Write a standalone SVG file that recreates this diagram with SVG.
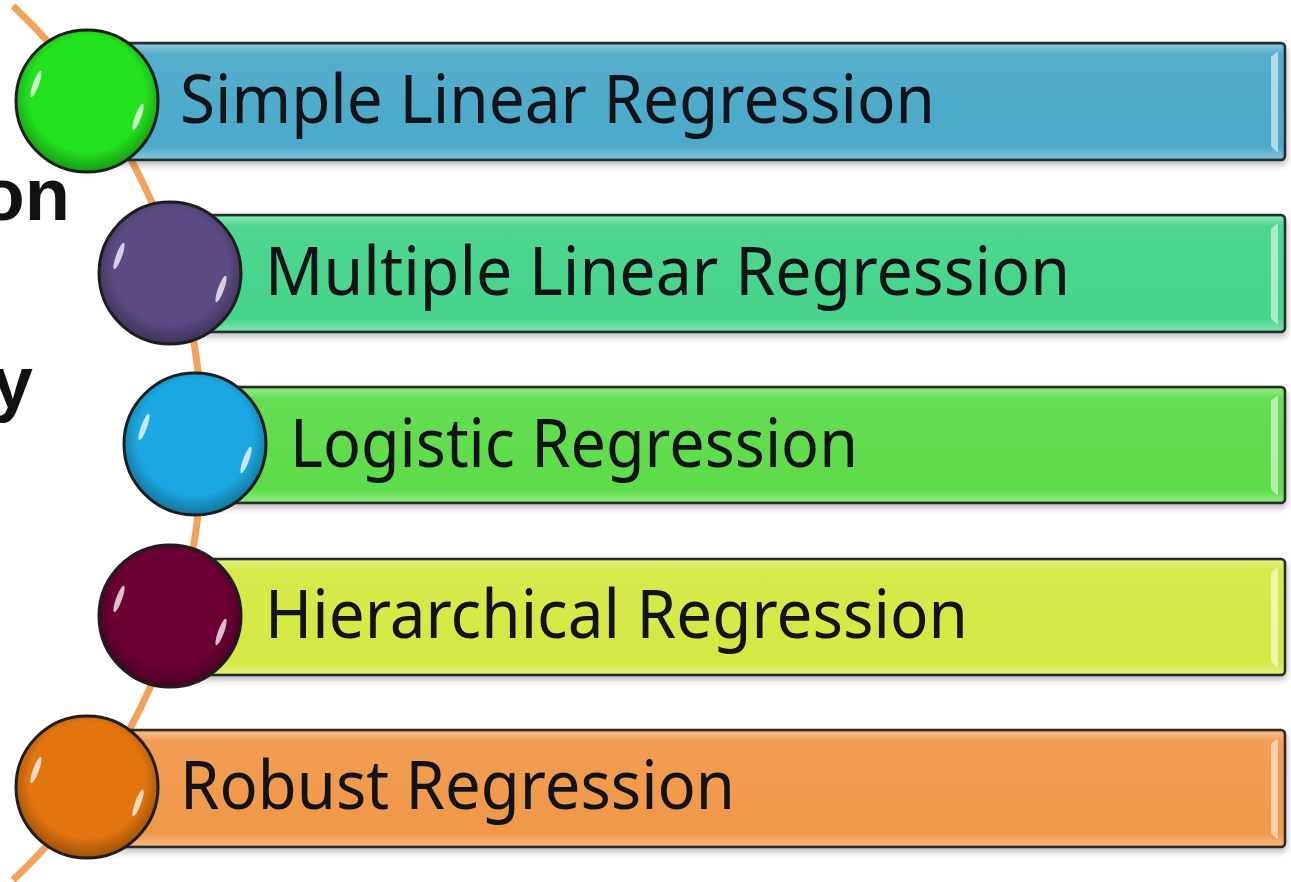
<svg xmlns="http://www.w3.org/2000/svg" width="1291" height="882" viewBox="0 0 1291 882">
<defs>
  <filter id="sh" x="-5%" y="-20%" width="110%" height="150%">
    <feGaussianBlur in="SourceAlpha" stdDeviation="3"/>
    <feOffset dx="1" dy="4" result="b"/>
    <feComponentTransfer><feFuncA type="linear" slope="0.25"/></feComponentTransfer>
    <feMerge><feMergeNode/><feMergeNode in="SourceGraphic"/></feMerge>
  </filter>
  <radialGradient id="shade" cx="50%" cy="45%" r="55%">
    <stop offset="0.75" stop-color="#000" stop-opacity="0"/>
    <stop offset="1" stop-color="#000" stop-opacity="0.3"/>
  </radialGradient>
  <linearGradient id="barGloss" x1="0" y1="0" x2="0" y2="1">
    <stop offset="0" stop-color="#fff" stop-opacity="0.35"/>
    <stop offset="0.08" stop-color="#fff" stop-opacity="0.05"/>
    <stop offset="0.9" stop-color="#fff" stop-opacity="0"/>
    <stop offset="1" stop-color="#fff" stop-opacity="0.3"/>
  </linearGradient>
</defs>
<style>
  .bar { stroke: #2a2a2a; stroke-width: 2.5; }
  .bevel { fill: #ffffff; fill-opacity: 0.55; }
  .ball { stroke: #1e1e1e; stroke-width: 3; }
  .hl { fill: #ffffff; fill-opacity: 0.75; }
  .lbl { font-family: "Noto Sans", "Open Sans", "Liberation Sans", sans-serif; font-size: 68px; fill: #111318; }
  .side { font-family: "Liberation Sans", Arial, sans-serif; font-weight: bold; font-size: 74px; fill: #111; }
  .curve { fill: none; stroke: #F2A25A; stroke-width: 7; }
</style>
<rect width="1291" height="882" fill="#ffffff"/>

<g id="side-text">
  <text class="side" x="70" y="220" text-anchor="end">on</text>
  <text class="side" x="33" y="408" text-anchor="end">y</text>
</g>

<g id="connectors">
  <path class="curve" d="M 13 6 A 599 599 0 0 1 13 880"/>
</g>

<g id="node1">
  <g filter="url(#sh)">
    <rect class="bar" x="87" y="43" width="1198" height="117" rx="4" fill="#4BA9C9"/>
    <rect x="89" y="45" width="1194" height="113" rx="3" fill="url(#barGloss)"/>
    <path class="bevel" d="M1271 57 Q1276 52 1278 52 L1278 152 Q1276 152 1271 146 Z"/>
  </g>
  <circle class="ball" cx="87" cy="101" r="71" fill="#22E21E"/>
  <circle cx="87" cy="101" r="70" fill="url(#shade)"/>
  <ellipse class="hl" cx="36" cy="84" rx="3" ry="14" transform="rotate(20 36 84)"/>
  <ellipse class="hl" cx="138" cy="117" rx="3" ry="14" transform="rotate(20 138 117)"/>
  <text class="lbl" x="180" y="123" textLength="755" lengthAdjust="spacingAndGlyphs">Simple Linear Regression</text>
</g>

<g id="node2">
  <g filter="url(#sh)">
    <rect class="bar" x="170" y="215" width="1115" height="117" rx="4" fill="#46D48B"/>
    <rect x="172" y="217" width="1111" height="113" rx="3" fill="url(#barGloss)"/>
    <path class="bevel" d="M1271 229 Q1276 224 1278 224 L1278 324 Q1276 324 1271 318 Z"/>
  </g>
  <circle class="ball" cx="170" cy="273" r="71" fill="#5C4A82"/>
  <circle cx="170" cy="273" r="70" fill="url(#shade)"/>
  <ellipse class="hl" cx="119" cy="256" rx="3" ry="14" transform="rotate(20 119 256)"/>
  <ellipse class="hl" cx="221" cy="289" rx="3" ry="14" transform="rotate(20 221 289)"/>
  <text class="lbl" x="265" y="295" textLength="805" lengthAdjust="spacingAndGlyphs">Multiple Linear Regression</text>
</g>

<g id="node3">
  <g filter="url(#sh)">
    <rect class="bar" x="195" y="387" width="1090" height="116" rx="4" fill="#5EDC4A"/>
    <rect x="197" y="389" width="1086" height="112" rx="3" fill="url(#barGloss)"/>
    <path class="bevel" d="M1271 401 Q1276 396 1278 396 L1278 495 Q1276 495 1271 489 Z"/>
  </g>
  <circle class="ball" cx="195" cy="444" r="71" fill="#1BA8E2"/>
  <circle cx="195" cy="444" r="70" fill="url(#shade)"/>
  <ellipse class="hl" cx="144" cy="427" rx="3" ry="14" transform="rotate(20 144 427)"/>
  <ellipse class="hl" cx="246" cy="460" rx="3" ry="14" transform="rotate(20 246 460)"/>
  <text class="lbl" x="290" y="467" textLength="568" lengthAdjust="spacingAndGlyphs">Logistic Regression</text>
</g>

<g id="node4">
  <g filter="url(#sh)">
    <rect class="bar" x="170" y="559" width="1115" height="116" rx="4" fill="#D4E943"/>
    <rect x="172" y="561" width="1111" height="112" rx="3" fill="url(#barGloss)"/>
    <path class="bevel" d="M1271 573 Q1276 568 1278 568 L1278 667 Q1276 667 1271 661 Z"/>
  </g>
  <circle class="ball" cx="170" cy="616" r="71" fill="#6B0034"/>
  <circle cx="170" cy="616" r="70" fill="url(#shade)"/>
  <ellipse class="hl" cx="119" cy="599" rx="3" ry="14" transform="rotate(20 119 599)"/>
  <ellipse class="hl" cx="221" cy="632" rx="3" ry="14" transform="rotate(20 221 632)"/>
  <text class="lbl" x="265" y="638" textLength="703" lengthAdjust="spacingAndGlyphs">Hierarchical Regression</text>
</g>

<g id="node5">
  <g filter="url(#sh)">
    <rect class="bar" x="87" y="730" width="1198" height="117" rx="4" fill="#F1984A"/>
    <rect x="89" y="732" width="1194" height="113" rx="3" fill="url(#barGloss)"/>
    <path class="bevel" d="M1271 744 Q1276 739 1278 739 L1278 839 Q1276 839 1271 833 Z"/>
  </g>
  <circle class="ball" cx="87" cy="787" r="71" fill="#E3750F"/>
  <circle cx="87" cy="787" r="70" fill="url(#shade)"/>
  <ellipse class="hl" cx="36" cy="770" rx="3" ry="14" transform="rotate(20 36 770)"/>
  <ellipse class="hl" cx="138" cy="803" rx="3" ry="14" transform="rotate(20 138 803)"/>
  <text class="lbl" x="180" y="809" textLength="555" lengthAdjust="spacingAndGlyphs">Robust Regression</text>
</g>
</svg>
